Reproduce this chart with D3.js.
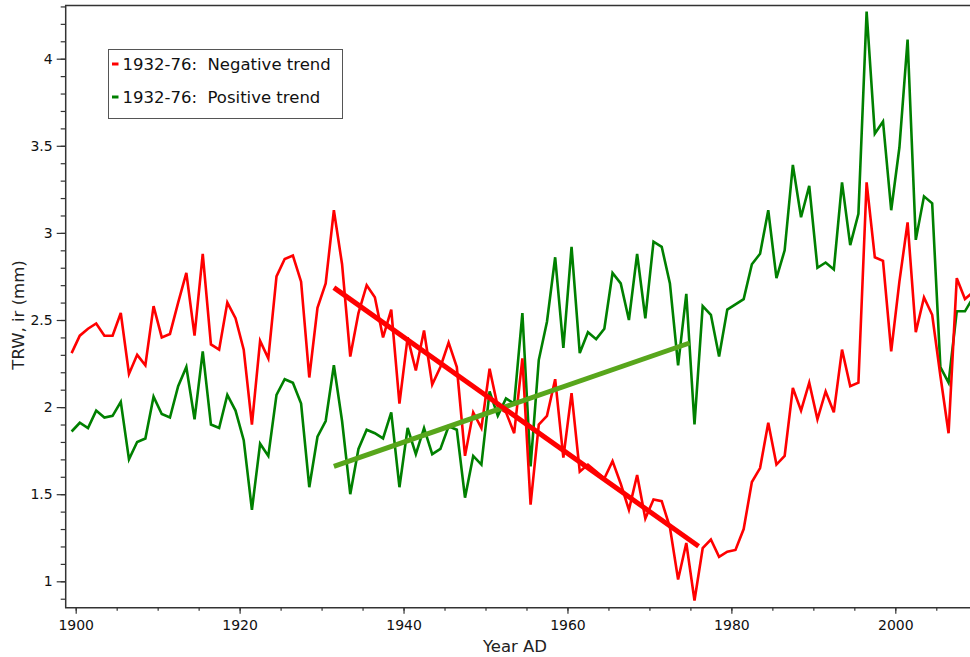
<!DOCTYPE html>
<html>
<head>
<meta charset="utf-8">
<script src="https://cdn.jsdelivr.net/npm/d3@7"></script>
<style>
  html, body { margin: 0; padding: 0; background: #fff; overflow: hidden; }
  svg { display: block; font-family: "DejaVu Sans", Verdana, sans-serif; }
</style>
</head>
<body>
<svg id="chart" width="970" height="657"></svg>
<script>
// tree ring widths, one value per year
var years = d3.range(1900, 2011);

var negSeries = [
  2.31, 2.41, 2.45, 2.48, 2.41, 2.41, 2.54, 2.19, 2.30, 2.24,
  2.58, 2.40, 2.42, 2.60, 2.77, 2.41, 2.88, 2.36, 2.33, 2.60,
  2.51, 2.33, 1.90, 2.38, 2.28, 2.75, 2.85, 2.87, 2.72, 2.17,
  2.57, 2.71, 3.13, 2.82, 2.29, 2.54, 2.70, 2.63, 2.40, 2.56,
  2.02, 2.40, 2.21, 2.44, 2.13, 2.23, 2.37, 2.23, 1.72, 1.97,
  1.88, 2.22, 2.00, 1.97, 1.85, 2.28, 1.44, 1.90, 1.95, 2.16,
  1.71, 2.08, 1.63, 1.67, 1.63, 1.59, 1.69, 1.56, 1.41, 1.61,
  1.36, 1.47, 1.46, 1.31, 1.01, 1.22, 0.89, 1.19, 1.24, 1.14,
  1.17, 1.18, 1.30, 1.57, 1.65, 1.91, 1.67, 1.72, 2.11, 1.98,
  2.14, 1.93, 2.09, 1.97, 2.33, 2.12, 2.14, 3.29, 2.86, 2.84,
  2.32, 2.72, 3.06, 2.43, 2.63, 2.53, 2.18, 1.85, 2.74, 2.62,
  2.66
];

var posSeries = [
  1.86, 1.91, 1.88, 1.98, 1.94, 1.95, 2.03, 1.70, 1.80, 1.82,
  2.06, 1.96, 1.94, 2.12, 2.23, 1.93, 2.32, 1.90, 1.88, 2.07,
  1.98, 1.81, 1.41, 1.79, 1.72, 2.07, 2.16, 2.14, 2.02, 1.54,
  1.83, 1.92, 2.24, 1.92, 1.50, 1.76, 1.87, 1.85, 1.82, 1.97,
  1.54, 1.88, 1.73, 1.88, 1.73, 1.76, 1.89, 1.87, 1.48, 1.72,
  1.67, 2.09, 1.95, 2.05, 2.02, 2.54, 1.66, 2.27, 2.49, 2.86,
  2.34, 2.92, 2.31, 2.43, 2.39, 2.45, 2.77, 2.71, 2.50, 2.88,
  2.51, 2.95, 2.92, 2.71, 2.24, 2.65, 1.90, 2.58, 2.53, 2.29,
  2.56, 2.59, 2.62, 2.82, 2.88, 3.13, 2.74, 2.90, 3.39, 3.09,
  3.27, 2.80, 2.83, 2.79, 3.29, 2.93, 3.11, 4.27, 3.57, 3.64,
  3.13, 3.49, 4.11, 2.96, 3.21, 3.17, 2.23, 2.14, 2.55, 2.55,
  2.63
];

// fitted trends 1932-76 (end points)
var negTrendYears = [1932, 1976.5];
var negTrendValues = [2.686, 1.201];
var posTrendYears = [1932, 1975.4];
var posTrendValues = [1.66, 2.368];

var legendLabels = ["1932-76:  Negative trend", "1932-76:  Positive trend"];
var xMajorTicks = d3.range(1900, 2001, 20);
var xMinorTicks = d3.range(1900, 2010, 5);
var yMajorTicks = [1, 1.5, 2, 2.5, 3, 3.5, 4];
var yMinorTicks = d3.range(9, 44).map(function(d) { return d / 10; });

var plotLeft = 65.7, plotTop = 5.5, plotBottom = 607.7, plotRight = 973;

var x = d3.scaleLinear().domain([1900, 2000]).range([75.7, 895.3]);
var y = d3.scaleLinear().domain([1, 4]).range([581.3, 58.7]);

var svg = d3.select("#chart");

svg.append("clipPath").attr("id", "plot")
  .append("rect")
  .attr("x", plotLeft).attr("y", plotTop)
  .attr("width", plotRight - plotLeft).attr("height", plotBottom - plotTop);

// y axis
var yMinor = d3.axisLeft(y).tickValues(yMinorTicks).tickSize(5).tickFormat("");
var yMajor = d3.axisLeft(y).tickValues(yMajorTicks).tickSize(9).tickPadding(4)
  .tickFormat(function(d) { return d3.format("")(d); });

svg.append("g").attr("transform", "translate(" + plotLeft + ",0)").call(yMinor);
svg.append("g").attr("transform", "translate(" + plotLeft + ",0)").call(yMajor);

// x axis
var xMinor = d3.axisBottom(x).tickValues(xMinorTicks).tickSize(3).tickFormat("");
var xMajor = d3.axisBottom(x).tickValues(xMajorTicks).tickSize(6).tickPadding(6)
  .tickFormat(d3.format("d"));
svg.append("g").attr("transform", "translate(0," + plotBottom + ")").call(xMinor);
svg.append("g").attr("transform", "translate(0," + plotBottom + ")").call(xMajor);

svg.selectAll(".domain").remove();
svg.selectAll(".tick line").attr("stroke", "#333").attr("stroke-width", 1.2);
svg.selectAll(".tick text").attr("font-size", 14).attr("fill", "#111")
  .attr("font-family", "DejaVu Sans, sans-serif");

// frame
svg.append("path")
  .attr("d", "M" + plotRight + "," + plotTop + "H" + plotLeft + "V" + plotBottom + "H" + plotRight)
  .attr("fill", "none")
  .attr("stroke", "#333")
  .attr("stroke-width", 1.5);

// axis titles
svg.append("text")
  .attr("x", 515).attr("y", 652)
  .attr("text-anchor", "middle")
  .attr("font-size", 16.5).attr("fill", "#222")
  .text("Year AD");

svg.append("text")
  .attr("transform", "translate(24,315) rotate(-90)")
  .attr("text-anchor", "middle")
  .attr("font-size", 16.5).attr("fill", "#222")
  .text("TRW, ir (mm)");

// series, rings plotted at the middle of the growth year
var line = d3.line()
  .x(function(d) { return x(d[0] - 0.5); })
  .y(function(d) { return y(d[1]); });

var plot = svg.append("g").attr("clip-path", "url(#plot)");

plot.append("path")
  .datum(d3.zip(years, posSeries))
  .attr("d", line)
  .attr("fill", "none").attr("stroke", "#008000")
  .attr("stroke-width", 2.6).attr("stroke-linejoin", "miter");

plot.append("path")
  .datum(d3.zip(years, negSeries))
  .attr("d", line)
  .attr("fill", "none").attr("stroke", "#ff0000")
  .attr("stroke-width", 2.6).attr("stroke-linejoin", "miter");

plot.append("path")
  .datum(d3.zip(posTrendYears, posTrendValues))
  .attr("d", line)
  .attr("fill", "none").attr("stroke", "#58a61c")
  .attr("stroke-width", 5);

plot.append("path")
  .datum(d3.zip(negTrendYears, negTrendValues))
  .attr("d", line)
  .attr("fill", "none").attr("stroke", "#ff0000")
  .attr("stroke-width", 5);

// legend
var legend = svg.append("g");
legend.append("rect")
  .attr("x", 108.5).attr("y", 49.5)
  .attr("width", 234).attr("height", 69)
  .attr("fill", "#fff").attr("stroke", "#555").attr("stroke-width", 1);

var legendColors = ["#ff0000", "#008000"];
legendLabels.forEach(function(label, i) {
  var cy = 64 + i * 33;
  legend.append("line")
    .attr("x1", 112).attr("x2", 118.5)
    .attr("y1", cy).attr("y2", cy)
    .attr("stroke", legendColors[i]).attr("stroke-width", 3);
  legend.append("text")
    .attr("x", 122.5).attr("y", cy)
    .attr("dy", "0.36em")
    .attr("font-size", 16.5).attr("fill", "#111")
    .style("white-space", "pre")
    .text(label);
});
</script>
</body>
</html>
